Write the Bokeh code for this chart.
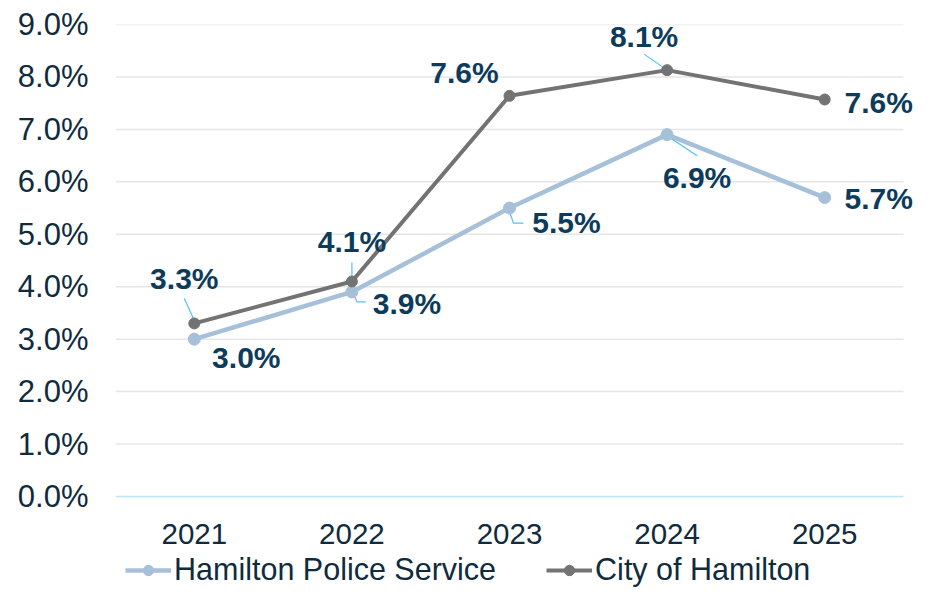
from bokeh.plotting import figure
from bokeh.models import Range1d, FixedTicker, PrintfTickFormatter, Legend, LegendItem
from bokeh.core.properties import value
from bokeh.embed import file_html
from bokeh.resources import INLINE

# ---------------- data ----------------
years = ["2021", "2022", "2023", "2024", "2025"]
hps = [3.0, 3.9, 5.5, 6.9, 5.7]
city = [3.3, 4.1, 7.64, 8.13, 7.57]
y_ticks = [0, 1, 2, 3, 4, 5, 6, 7, 8, 9]
series_names = ["Hamilton Police Service", "City of Hamilton"]

# ---------------- layout / style ----------------
W, H = 918, 587
ML, MT = 115, 24
CAT_RIGHT = 903          # pixel column where the category band ends
BASE_PX = 496            # pixel row of the 0% baseline
n = len(years)
C0, C1 = -0.5, n - 0.5   # category band in data units
PX_X = (CAT_RIGHT - ML) / (C1 - C0)
X0, X1 = C0, C1 + (W - CAT_RIGHT) / PX_X   # extra room on the right for the end labels
PX_Y = (BASE_PX - MT) / (y_ticks[-1] - y_ticks[0])
Y1 = y_ticks[-1]
Y0 = y_ticks[0] - (H - BASE_PX) / PX_Y    # room below the baseline for years + legend

HPS_COLOR = "#A6C0D9"
CITY_COLOR = "#737373"
LABEL_COLOR = "#0C3B5C"
TEXT_COLOR = "#0F2B3D"
LEADER_COLOR = "#4FC3F7"
GRID_COLOR = "#E6E6E6"
BASE_COLOR = "#BDE6FA"
FONT = "Liberation Sans"

# label pixel offsets (dx, dy) relative to each point; leader polylines in px
city_label_off = [(-10, -45), (0, -40), (-45, -23), (-23, -34), (54, 3)]
hps_label_off = [(52, 18), (55, 12), (57, 14), (30, 43), (54, 1)]
city_leaders = [[(-10, -25), (0, -3)], [(0, -19), (0, -4)], None, [(-23, -16), (0, 0)], None]
hps_leaders = [None, [(1, 0), (5, 10), (14, 10)], [(0, 4), (4, 15), (14, 15)], [(0, 1), (30, 21)], None]

xs = list(range(n))

p = figure(width=W, height=H, output_backend="svg", toolbar_location=None,
           x_range=Range1d(X0, X1), y_range=Range1d(Y0, Y1),
           min_border_left=ML, min_border_right=0, min_border_top=MT, min_border_bottom=0,
           background_fill_color="white", border_fill_color="white")
p.outline_line_color = None

# y axis
p.yaxis.ticker = FixedTicker(ticks=y_ticks)
p.yaxis.formatter = PrintfTickFormatter(format="%.1f%%")
p.yaxis.axis_line_color = None
p.yaxis.major_tick_line_color = None
p.yaxis.minor_tick_line_color = None
p.yaxis.major_label_standoff = 21
p.yaxis.major_label_text_font = FONT
p.yaxis.major_label_text_font_size = "31px"
p.yaxis.major_label_text_color = TEXT_COLOR

# grid lines limited to the category band, baseline in light blue
p.xaxis.visible = False
p.xgrid.grid_line_color = None
p.ygrid.grid_line_color = None
p.multi_line([[C0, C1] for t in y_ticks[1:]], [[t, t] for t in y_ticks[1:]],
             line_color=GRID_COLOR, line_width=1.5)
p.line([C0, C1], [y_ticks[0], y_ticks[0]], line_color=BASE_COLOR, line_width=1.5)

# category labels under the baseline
p.text(xs, [y_ticks[0]] * n, text=years, y_offset=37,
       text_align="center", text_baseline="middle",
       text_font=value(FONT), text_font_size="29.5px", text_color=TEXT_COLOR)


def leader_lines(vals, leaders):
    lx, ly = [], []
    for i, (v, ld) in enumerate(zip(vals, leaders)):
        if ld is None:
            continue
        lx.append([xs[i] + dx / PX_X for dx, dy in ld])
        ly.append([v - dy / PX_Y for dx, dy in ld])
    return lx, ly


# series
hps_line = p.line(xs, hps, line_color=HPS_COLOR, line_width=4.5)
city_line = p.line(xs, city, line_color=CITY_COLOR, line_width=4)

for vals, leaders in ((hps, hps_leaders), (city, city_leaders)):
    lx, ly = leader_lines(vals, leaders)
    p.multi_line(lx, ly, line_color=LEADER_COLOR, line_width=1.2)

hps_pts = p.scatter(xs, hps, size=12, fill_color=HPS_COLOR, line_color=HPS_COLOR)
city_pts = p.scatter(xs, city, size=11, fill_color=CITY_COLOR, line_color=CITY_COLOR)

for vals, offs in ((hps, hps_label_off), (city, city_label_off)):
    p.text(xs, vals, text=[f"{v:.1f}%" for v in vals],
           x_offset=[o[0] for o in offs], y_offset=[o[1] for o in offs],
           text_align="center", text_baseline="middle",
           text_font=value(FONT), text_font_style="bold",
           text_font_size="30px", text_color=LABEL_COLOR)

legend = Legend(items=[LegendItem(label=series_names[0], renderers=[hps_line, hps_pts]),
                       LegendItem(label=series_names[1], renderers=[city_line, city_pts])],
                orientation="horizontal", location=(10, 0),
                glyph_width=46, glyph_height=26, label_height=26, label_standoff=3,
                spacing=50, padding=0, margin=0,
                border_line_color=None, background_fill_alpha=0,
                label_text_font=FONT, label_text_font_size="30.5px",
                label_text_color=TEXT_COLOR, label_text_baseline="middle")
p.add_layout(legend)

open("out.html", "w").write(file_html(p, INLINE))
